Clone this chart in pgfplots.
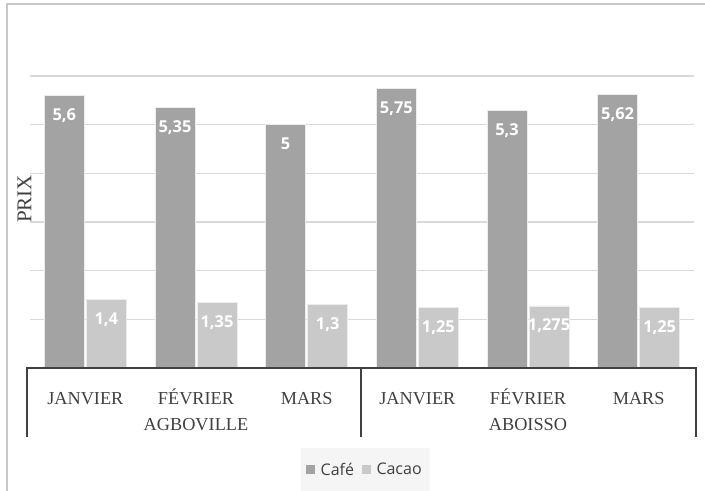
\documentclass[border=0pt]{standalone}
\usepackage{fontspec}
\setmainfont{Liberation Serif}
\newfontfamily\lblfont{Open Sans}
\usepackage{pgfplots}
\pgfplotsset{compat=1.18}
\definecolor{cafe}{HTML}{A3A3A3}
\definecolor{cacao}{HTML}{C9C9C9}
\definecolor{darkline}{HTML}{404040}
\definecolor{gridc}{HTML}{D9D9D9}
\definecolor{legbg}{HTML}{F5F5F5}
\definecolor{borderc}{HTML}{C8C8C8}
\begin{document}
\begin{tikzpicture}
\useasboundingbox (0,0) rectangle (528.75pt,368.25pt);
\draw[borderc, line width=1.4pt] (5.25pt,-2pt) -- (5.25pt,365.25pt) -- (532pt,365.25pt);
\begin{axis}[
  at={(22.5pt,92.25pt)}, anchor=south west,
  width=498pt, height=219pt, scale only axis,
  xmin=-0.5, xmax=5.5, ymin=0, ymax=6,
  enlargelimits=false, clip=false,
  ybar=1.5pt, bar width=30pt,
  axis line style={draw=none},
  tick style={draw=none},
  ytick={1,2,3,4,5,6}, yticklabels={},
  ymajorgrids, grid style={gridc, line width=1.1pt},
  xtick={0,1,2,3,4,5},
  xticklabels={JANVIER,FÉVRIER,MARS,JANVIER,FÉVRIER,MARS},
  xticklabel style={anchor=center, yshift=-18.75pt, text height=9pt, text depth=0pt, text=darkline, font=\fontsize{13.7}{15}\selectfont},
  ylabel={PRIX},
  every axis y label/.style={at={(rel axis cs:-0.0083,0.579)}, rotate=90, anchor=center, text height=10.5pt, text depth=0pt, text=darkline, font=\fontsize{15.8}{17}\selectfont},
  nodes near coords={\pgfmathprintnumber[assume math mode=true,use comma,precision=3]{\pgfplotspointmeta}},
  nodes near coords style={anchor=center, yshift=-14.5pt, text=white, text height=8.5pt, text depth=0pt, font=\lblfont\bfseries\fontsize{12.3}{14}\selectfont},
  legend columns=2,
  legend style={at={(0.505,-0.349)}, anchor=center, draw=none, fill=legbg,
    font=\lblfont\fontsize{12}{14}\selectfont, text=darkline,
    inner xsep=4pt, inner ysep=9pt,
    /tikz/every odd column/.append style={column sep=2pt},
    /tikz/every even column/.append style={column sep=4pt}},
  legend image code/.code={\fill[#1, draw=none] (0pt,-3.4pt) rectangle (6.8pt,3.4pt);},
]
\addplot[fill=cafe, draw=white!85!gray, line width=0.6pt] coordinates {(0,5.6) (1,5.35) (2,5) (3,5.75) (4,5.3) (5,5.62)};
\addplot[fill=cacao, draw=white!85!gray, line width=0.6pt] coordinates {(0,1.4) (1,1.35) (2,1.3) (3,1.25) (4,1.275) (5,1.25)};
\legend{Café, Cacao}
\draw[darkline, line width=2pt] (axis cs:-0.527,-1.418) -- (axis cs:-0.527,0) -- (axis cs:5.518,0) -- (axis cs:5.518,-1.418);
\draw[darkline, line width=2pt] (axis cs:2.49,0) -- (axis cs:2.49,-1.418);
\node[text=darkline, text height=9pt, text depth=0pt, font=\fontsize{13.7}{15}\selectfont] at (axis cs:1,-1.17) {AGBOVILLE};
\node[text=darkline, text height=9pt, text depth=0pt, font=\fontsize{13.7}{15}\selectfont] at (axis cs:4,-1.17) {ABOISSO};
\end{axis}
\end{tikzpicture}
\end{document}
